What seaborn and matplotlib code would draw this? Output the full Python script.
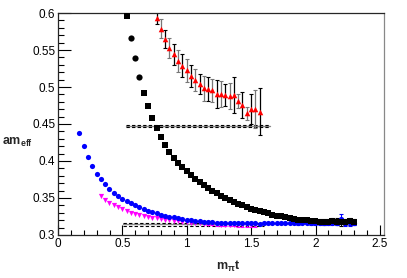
import numpy as np
import pandas as pd
import seaborn as sns
import matplotlib
matplotlib.use("Agg")
import matplotlib.pyplot as plt
from matplotlib.ticker import MultipleLocator

# m_pi in lattice units, x axis is m_pi * t
m_pi = 0.0333

t_black = np.arange(16, 70)
y_black = [0.596, 0.566, 0.539, 0.514, 0.492, 0.474, 0.4585, 0.444, 0.432, 0.4216,
           0.412, 0.404, 0.397, 0.3915, 0.386, 0.381, 0.376, 0.371, 0.367, 0.363,
           0.3595, 0.356, 0.353, 0.350, 0.347, 0.3445, 0.342, 0.340, 0.3375, 0.3355,
           0.3335, 0.332, 0.3305, 0.329, 0.3275, 0.326, 0.325, 0.324, 0.323, 0.322,
           0.3205, 0.320, 0.3195, 0.319, 0.3185, 0.318, 0.3175, 0.318, 0.3185, 0.318,
           0.3175, 0.318, 0.3185, 0.318]
err_black = [0.0] * 42 + [0.003, 0.003, 0.0035, 0.003, 0.004, 0.0035, 0.004, 0.0045,
                          0.005, 0.004, 0.0045, 0.004]

t_blue = np.arange(5, 70)
y_blue = [0.438, 0.420, 0.405, 0.393, 0.383, 0.375, 0.3685, 0.3626, 0.357, 0.3527,
          0.3486, 0.3455, 0.3428, 0.340, 0.3375, 0.335, 0.333, 0.331, 0.329, 0.3275,
          0.326, 0.3248, 0.3236, 0.3225, 0.3215, 0.3206, 0.3198, 0.319, 0.3184, 0.3178,
          0.3173, 0.3168, 0.3165, 0.3162, 0.316, 0.3158, 0.3157, 0.3156, 0.3155, 0.3156,
          0.3155, 0.3157, 0.3154, 0.3156, 0.3158, 0.3155, 0.3157, 0.3159, 0.3156, 0.3158,
          0.316, 0.3157, 0.3159, 0.3161, 0.3158, 0.3156, 0.316, 0.3163, 0.3158, 0.3155,
          0.3162, 0.3215, 0.3155, 0.316, 0.3165]
err_blue = [0.0] * 45 + [0.001, 0.001, 0.0015, 0.001, 0.0015, 0.0015, 0.002, 0.0015,
                         0.002, 0.002, 0.0025, 0.002, 0.0025, 0.003, 0.0025, 0.003,
                         0.007, 0.003, 0.0035, 0.003]

t_magenta = np.arange(10, 47)
y_magenta = [0.3527, 0.3477, 0.3437, 0.3401, 0.3374, 0.3347, 0.3324, 0.3303, 0.3286, 0.327,
             0.3257, 0.3244, 0.3232, 0.3222, 0.3212, 0.3203, 0.3196, 0.3189, 0.3182, 0.3176,
             0.317, 0.3165, 0.316, 0.3156, 0.3152, 0.3148, 0.3145, 0.3142, 0.3139, 0.3137,
             0.3135, 0.3134, 0.3132, 0.3131, 0.313, 0.3129, 0.3128]
err_magenta = [0.0] * 25 + [0.001, 0.001, 0.0015, 0.0015, 0.0015, 0.002, 0.002, 0.002,
                            0.002, 0.0025, 0.0025, 0.0025]

t_red = np.arange(23, 48)
y_red = [0.5936, 0.579, 0.5645, 0.553, 0.544, 0.5355, 0.529, 0.5225, 0.515, 0.509,
         0.504, 0.498, 0.4977, 0.4955, 0.491, 0.4905, 0.4892, 0.4878, 0.4892, 0.4807,
         0.4757, 0.4645, 0.4699, 0.4699, 0.4666]
err_red = [0.009, 0.013, 0.012, 0.0135, 0.014, 0.015, 0.015, 0.016, 0.015, 0.015,
           0.013, 0.017, 0.016, 0.016, 0.019, 0.018, 0.0155, 0.018, 0.025, 0.0097,
           0.0176, 0.009, 0.02, 0.026, 0.032]

# plateau fits (value, error, x-range)
fit_high = (0.4471, 0.0017, 0.53, 1.65)
fit_low = (0.3146, 0.0020, 0.505, 1.60)

df_black = pd.DataFrame({"x": t_black * m_pi, "y": y_black, "err": err_black})
df_blue = pd.DataFrame({"x": t_blue * m_pi, "y": y_blue, "err": err_blue})
df_mag = pd.DataFrame({"x": t_magenta * m_pi, "y": y_magenta, "err": err_magenta})
df_red = pd.DataFrame({"x": t_red * m_pi, "y": y_red, "err": err_red})

sns.set_style("ticks")
plt.rcParams["font.family"] = ["Liberation Sans", "DejaVu Sans"]
plt.rcParams["mathtext.fontset"] = "custom"
plt.rcParams["mathtext.rm"] = "Liberation Sans"
plt.rcParams["mathtext.bf"] = "Liberation Sans:bold"
plt.rcParams["mathtext.it"] = "Liberation Sans:italic"

fig = plt.figure(figsize=(4.07, 2.78), dpi=100)
ax = fig.add_axes([0.1425, 0.155, 0.8005, 0.798])

# fit bands
for val, err, x0, x1 in (fit_high, fit_low):
    ax.plot([x0, x1], [val, val], color="#888888", lw=1.0, zorder=1)
    ax.plot([x0, x1], [val + err, val + err], color="black", lw=0.8, ls=(0, (3, 2)), zorder=1)
    ax.plot([x0, x1], [val - err, val - err], color="black", lw=0.8, ls=(0, (3, 2)), zorder=1)

# error bars
for d, c in ((df_black, "black"), (df_blue, "blue"), (df_mag, "magenta")):
    m = d["err"] > 0
    ax.errorbar(d.x[m], d.y[m], yerr=d.err[m], fmt="none", ecolor=c, elinewidth=0.8,
                capsize=1.2, capthick=0.8, zorder=2)
ax.errorbar(df_red.x[::2], df_red.y[::2], yerr=df_red.err[::2], fmt="none", ecolor="black",
            elinewidth=0.9, capsize=1.2, capthick=0.8, zorder=2)
ax.errorbar(df_red.x[1::2], df_red.y[1::2], yerr=df_red.err[1::2], fmt="none", ecolor="#777777",
            elinewidth=0.9, capsize=1.2, capthick=0.8, zorder=2)

sns.scatterplot(data=df_mag, x="x", y="y", marker="v", color="magenta", s=14, linewidth=0, ax=ax, zorder=3)
sns.scatterplot(data=df_blue, x="x", y="y", marker="o", color="blue", s=14, linewidth=0, ax=ax, zorder=3)
sns.scatterplot(data=df_black.iloc[[0] + list(range(4, len(df_black)))], x="x", y="y", marker="s",
                color="black", s=14, linewidth=0, ax=ax, zorder=3)
sns.scatterplot(data=df_black.iloc[1:4], x="x", y="y", marker="o", color="black", s=20,
                linewidth=0, ax=ax, zorder=3)
sns.scatterplot(data=df_red, x="x", y="y", marker="^", color="red", s=16, linewidth=0, ax=ax, zorder=4)

ax.set_xlim(0, 2.53)
ax.set_ylim(0.3, 0.6)
ax.xaxis.set_major_locator(MultipleLocator(0.5))
ax.xaxis.set_minor_locator(MultipleLocator(0.1))
ax.yaxis.set_major_locator(MultipleLocator(0.05))
ax.yaxis.set_minor_locator(MultipleLocator(0.01))
ax.set_xticks([0, 0.5, 1, 1.5, 2, 2.5])
ax.set_xticklabels(["0", "0.5", "1", "1.5", "2", "2.5"])
ax.set_yticks([0.3, 0.35, 0.4, 0.45, 0.5, 0.55, 0.6])
ax.set_yticklabels(["0.3", "0.35", "0.4", "0.45", "0.5", "0.55", "0.6"])
ax.tick_params(which="both", direction="in", top=False, right=False, labelsize=8.5,
               width=0.8, colors="black")
ax.tick_params(axis="y", which="major", length=9, pad=2)
ax.tick_params(axis="y", which="minor", length=4.5)
ax.tick_params(axis="x", which="major", length=7, pad=2)
ax.tick_params(axis="x", which="minor", length=3.5)
ax.set_xlabel("")
ax.set_ylabel("")
for s in ax.spines.values():
    s.set_linewidth(0.9)
ax.spines["right"].set_color("#888888")

fig.text(0.005, 0.486, r"$\mathbf{am_{eff}}$", fontsize=9, ha="left", va="center")
fig.text(0.53, 0.04, r"$\mathbf{m_{\pi}t}$", fontsize=9, ha="left", va="center")

plt.savefig("out.png", dpi=100)
